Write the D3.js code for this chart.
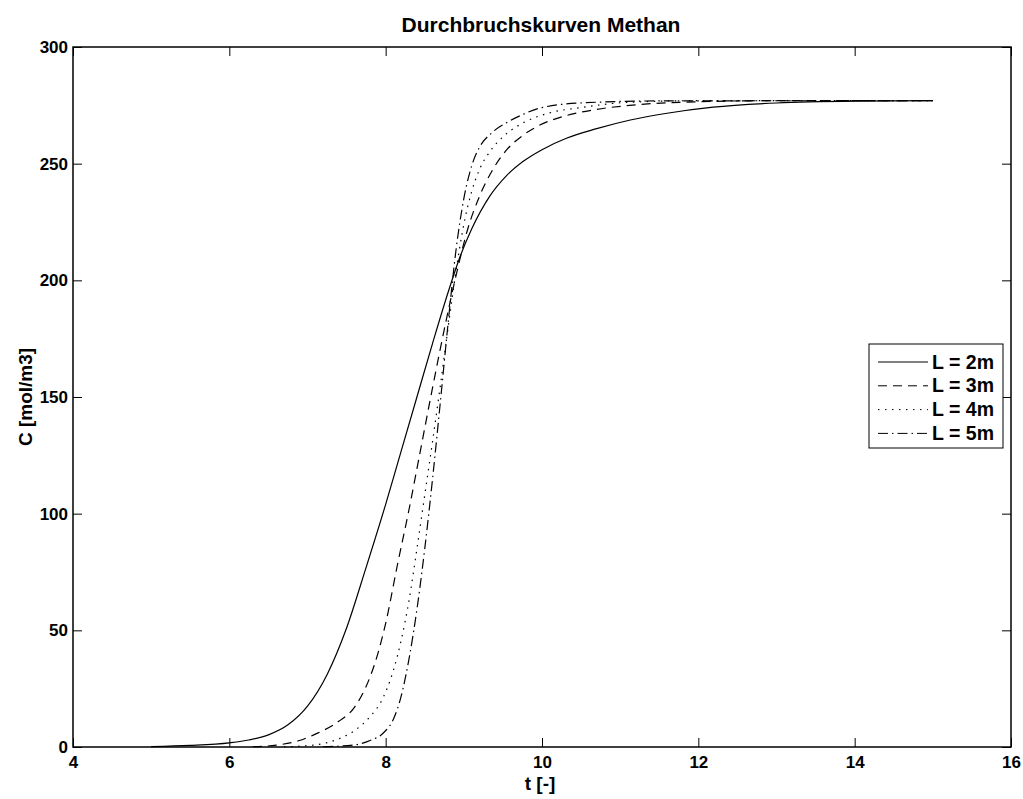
<!DOCTYPE html>
<html><head><meta charset="utf-8">
<script src="https://cdn.jsdelivr.net/npm/d3@7"></script>
<style>body{margin:0;background:#fff}svg{display:block}</style>
</head><body>
<script>
const title = "Durchbruchskurven Methan";
const xLabel = "t [-]";
const yLabel = "C [mol/m3]";
const xTicks = [4,6,8,10,12,14,16];
const yTicks = [0,50,100,150,200,250,300];
const seriesNames = ["L = 2m","L = 3m","L = 4m","L = 5m"];

const t2 = [5.0,5.5,6.0,6.25,6.5,6.75,7.0,7.25,7.5,7.75,8.0,8.2,8.4,8.6,8.8,8.95,9.1,9.33,9.55,9.76,10.0,10.32,10.7,11.13,11.6,12.19,13.0,14.0,15.0];
const c2 = [0.2,0.7,1.8,3,5.2,9.5,17.5,31,51,77,104,127,150,173,195,210,222,236,245,251,256,261,265,268.7,271.6,274.2,276,276.8,277];
const t3 = [6.3,6.6,6.9,7.1,7.4,7.6,7.8,7.9,8.0,8.15,8.3,8.45,8.6,8.75,8.9,9.05,9.2,9.38,9.55,9.75,9.94,10.3,10.65,11.2,11.76,13.0,15.0];
const c3 = [0.1,0.8,2.8,5.5,11,17,30,40,53,78,102,128,154,179,202,222,236,248,256,262,266,270.5,273,275.2,276.3,277,277];
const t4 = [6.7,7.1,7.4,7.6,7.8,7.95,8.1,8.2,8.3,8.4,8.5,8.6,8.7,8.8,8.9,9.0,9.1,9.2,9.33,9.5,9.76,10.1,10.49,11.1,12.0,15.0];
const c4 = [0.1,0.9,3.5,7,13,20,33,46,63,85,108,131,155,180,204,224,238,247.5,255,261.5,267.5,271.8,274,276.3,277,277];
const t5 = [7.2,7.6,7.8,7.97,8.1,8.2,8.3,8.4,8.5,8.6,8.7,8.8,8.9,9.0,9.1,9.2,9.35,9.55,9.75,9.97,10.49,11.5,15.0];
const c5 = [0.1,0.9,2.8,6,12,22,38,59,85,115,148,182,213,235,249,257,263,267.6,271,273.8,276,276.9,277];

const seriesT = [t2,t3,t4,t5];
const seriesC = [c2,c3,c4,c5];
const dashes = [null,"9,6","1.5,5.5","10,4,1.5,4"];

const W=1023,H=799;
const m={left:73,top:47,right:1011,bottom:747};
const svg=d3.select("body").append("svg").attr("width",W).attr("height",H);
const x=d3.scaleLinear().domain([4,16]).range([m.left,m.right]);
const y=d3.scaleLinear().domain([0,300]).range([m.bottom,m.top]);
const font="Arial, 'Liberation Sans', Helvetica, sans-serif";

const line=d3.line().x(d=>x(d[0])).y(d=>y(d[1])).curve(d3.curveMonotoneX);
const g=svg.append("g");
seriesT.forEach((ts,i)=>{
  const pts=ts.map((t,j)=>[t,seriesC[i][j]]);
  const p=g.append("path").datum(pts).attr("d",line).attr("fill","none")
    .attr("stroke","#000").attr("stroke-width",1.2);
  if(dashes[i]) p.attr("stroke-dasharray",dashes[i]);
});

// axes with inward ticks
const tl=9;
const ax=svg.append("g").attr("transform",`translate(0,${m.bottom})`)
  .call(d3.axisBottom(x).tickValues(xTicks).tickSize(-tl).tickPadding(9).tickFormat(d3.format("d")));
const axT=svg.append("g").attr("transform",`translate(0,${m.top})`)
  .call(d3.axisTop(x).tickValues(xTicks).tickSize(-tl).tickFormat(""));
const ay=svg.append("g").attr("transform",`translate(${m.left},0)`)
  .call(d3.axisLeft(y).tickValues(yTicks).tickSize(-tl).tickPadding(5).tickFormat(d3.format("d")));
const ayR=svg.append("g").attr("transform",`translate(${m.right},0)`)
  .call(d3.axisRight(y).tickValues(yTicks).tickSize(-tl).tickFormat(""));
[ax,axT,ay,ayR].forEach(a=>{
  a.select(".domain").remove();
  a.selectAll("line").attr("stroke","#000").attr("stroke-width",1);
  a.selectAll("text").attr("font-family",font).attr("font-size",17).attr("font-weight","bold").attr("fill","#000");
});
svg.append("rect").attr("x",m.left).attr("y",m.top).attr("width",m.right-m.left).attr("height",m.bottom-m.top)
  .attr("fill","none").attr("stroke","#000").attr("stroke-width",1.5);

svg.append("text").attr("x",541).attr("y",32).attr("text-anchor","middle")
  .attr("font-family",font).attr("font-size",21).attr("font-weight","bold").text(title);
svg.append("text").attr("x",540).attr("y",790).attr("text-anchor","middle")
  .attr("font-family",font).attr("font-size",19).attr("font-weight","bold").text(xLabel);
svg.append("text").attr("transform",`translate(32,397) rotate(-90)`).attr("text-anchor","middle")
  .attr("font-family",font).attr("font-size",19).attr("font-weight","bold").text(yLabel);

// legend
const lg=svg.append("g");
lg.append("rect").attr("x",869).attr("y",344).attr("width",134).attr("height",104)
  .attr("fill","#fff").attr("stroke","#000").attr("stroke-width",1);
seriesNames.forEach((n,i)=>{
  const yy=362+i*23.8;
  const l=lg.append("line").attr("x1",878).attr("x2",928).attr("y1",yy).attr("y2",yy).attr("stroke","#000").attr("stroke-width",1);
  if(dashes[i]) l.attr("stroke-dasharray",dashes[i]);
  lg.append("text").attr("x",932).attr("y",yy+6.5).attr("font-family",font).attr("font-size",19.5).attr("font-weight","bold").text(n);
});
</script>
</body></html>
